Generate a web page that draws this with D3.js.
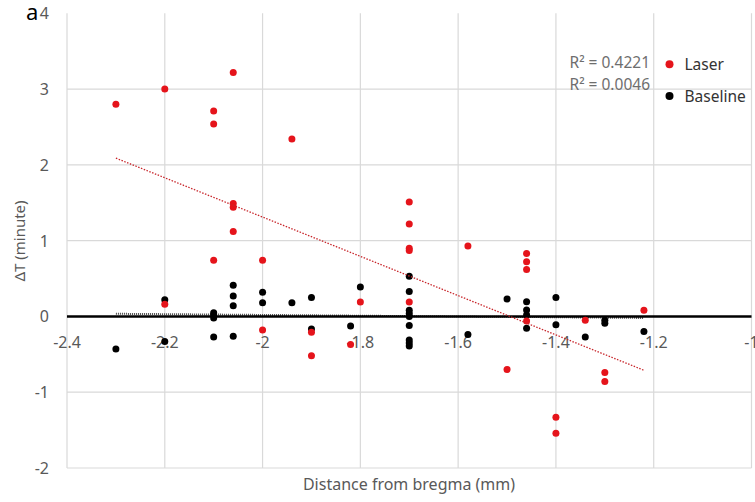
<!DOCTYPE html>
<html>
<head>
<meta charset="utf-8">
<script src="https://cdn.jsdelivr.net/npm/d3@7"></script>
<style>
  body { margin: 0; background: #fff; }
  svg text { font-family: "Noto Sans", "Open Sans", sans-serif; }
</style>
</head>
<body>
<div id="chart"></div>
<script>
// values
var laserX = [-2.3, -2.2, -2.2, -2.1, -2.1, -2.1, -2.06, -2.06, -2.06, -2.06, -2.0, -2.0, -1.94, -1.9, -1.9,
              -1.82, -1.8, -1.7, -1.7, -1.7, -1.7, -1.7, -1.58, -1.5, -1.46, -1.46, -1.46, -1.46, -1.4, -1.4,
              -1.34, -1.3, -1.3, -1.22];
var laserY = [2.80, 3.00, 0.16, 2.71, 2.54, 0.74, 3.22, 1.49, 1.44, 1.12, 0.74, -0.18, 2.34, -0.21, -0.52,
              -0.37, 0.19, 1.51, 1.22, 0.90, 0.87, 0.19, 0.93, -0.70, 0.83, 0.72, 0.62, -0.06, -1.33, -1.54,
              -0.05, -0.74, -0.86, 0.08];
var baseX = [-2.3, -2.2, -2.2, -2.1, -2.1, -2.1, -2.1, -2.06, -2.06, -2.06, -2.06, -2.0, -2.0, -1.94, -1.9, -1.9,
             -1.82, -1.8, -1.7, -1.7, -1.7, -1.7, -1.7, -1.7, -1.7, -1.7, -1.7, -1.58, -1.5, -1.46, -1.46, -1.46,
             -1.46, -1.4, -1.4, -1.34, -1.3, -1.3, -1.22];
var baseY = [-0.43, 0.22, -0.33, 0.05, 0.02, -0.02, -0.27, 0.41, 0.27, 0.14, -0.26, 0.32, 0.18, 0.18, 0.25, -0.165,
             -0.125, 0.39, 0.53, 0.33, 0.08, 0.04, 0.0, -0.12, -0.31, -0.35, -0.39, -0.24, 0.23, 0.195, 0.086, 0.02,
             -0.155, 0.25, -0.11, -0.27, -0.05, -0.09, -0.2];
var seriesNames = ["Laser", "Baseline"];
var r2Labels = ["R\u00b2 = 0.4221", "R\u00b2 = 0.0046"];
var xTicks = [-2.4, -2.2, -2, -1.8, -1.6, -1.4, -1.2, -1];
var yTicks = [4, 3, 2, 1, 0, -1, -2];

var width = 755,
    height = 502;
var red = "#e5141b",
    grid = "#d9d9d9",
    labelGrey = "#595959";

var svg = d3.select("#chart")
    .append("svg")
    .attr("width", width)
    .attr("height", height);

var x = d3.scaleLinear().domain([-2.4, -1]).range([67, 751.5]);
var y = d3.scaleLinear().domain([-2, 4]).range([468, 13.3]);

// gridlines
svg.append("g")
    .selectAll("line")
    .data(xTicks)
    .enter()
    .append("line")
    .attr("x1", d => x(d)).attr("x2", d => x(d))
    .attr("y1", y(4)).attr("y2", y(-2))
    .attr("stroke", grid)
    .attr("stroke-width", 1.2);

svg.append("g")
    .selectAll("line")
    .data(yTicks.filter(d => d !== 4 && d !== 0))
    .enter()
    .append("line")
    .attr("x1", x(-2.4)).attr("x2", x(-1))
    .attr("y1", d => y(d)).attr("y2", d => y(d))
    .attr("stroke", grid)
    .attr("stroke-width", 1.2);

// tick labels
svg.append("g")
    .selectAll("text")
    .data(yTicks)
    .enter()
    .append("text")
    .attr("x", 49)
    .attr("y", d => y(d) + 6)
    .attr("text-anchor", "end")
    .attr("fill", labelGrey)
    .style("font-size", "16px")
    .text(d => d);

svg.append("g")
    .selectAll("text")
    .data(xTicks)
    .enter()
    .append("text")
    .attr("x", d => x(d))
    .attr("y", y(0) + 32)
    .attr("text-anchor", "middle")
    .attr("fill", labelGrey)
    .style("font-size", "16px")
    .text(d => d);

// linear fit for a series, drawn between its smallest and largest x
function fit(xs, ys) {
    var mx = d3.mean(xs), my = d3.mean(ys);
    var sxy = d3.sum(xs, (v, i) => (v - mx) * (ys[i] - my));
    var sxx = d3.sum(xs, v => (v - mx) * (v - mx));
    var b = sxy / sxx, a = my - b * mx;
    var ext = d3.extent(xs);
    return ext.map(v => [v, a + b * v]);
}

var line = d3.line().x(d => x(d[0])).y(d => y(d[1]));

svg.append("path")
    .attr("d", line(fit(baseX, baseY)))
    .attr("stroke", "#444")
    .attr("stroke-width", 2)
    .attr("stroke-dasharray", "1,1")
    .attr("fill", "none");

// zero line
svg.append("line")
    .attr("x1", x(-2.4)).attr("x2", x(-1))
    .attr("y1", y(0)).attr("y2", y(0))
    .attr("stroke", "#000")
    .attr("stroke-width", 2.5);

// points
svg.append("g")
    .selectAll("circle")
    .data(baseX.map((v, i) => [v, baseY[i]]))
    .enter()
    .append("circle")
    .attr("cx", d => x(d[0]))
    .attr("cy", d => y(d[1]))
    .attr("r", 3.5)
    .attr("fill", "#000");

svg.append("g")
    .selectAll("circle")
    .data(laserX.map((v, i) => [v, laserY[i]]))
    .enter()
    .append("circle")
    .attr("cx", d => x(d[0]))
    .attr("cy", d => y(d[1]))
    .attr("r", 3.5)
    .attr("fill", red);

svg.append("path")
    .attr("d", line(fit(laserX, laserY)))
    .attr("stroke", "#c8262b")
    .attr("stroke-width", 1.3)
    .attr("stroke-dasharray", "1.5,1.5")
    .attr("fill", "none");

// R squared labels
svg.append("g")
    .selectAll("text")
    .data(r2Labels)
    .enter()
    .append("text")
    .attr("x", 650)
    .attr("y", (d, i) => 68 + i * 21.5)
    .attr("text-anchor", "end")
    .attr("fill", "#6e6e6e")
    .style("font-size", "15.5px")
    .text(d => d);

// legend
var legend = svg.append("g")
    .selectAll("g")
    .data(seriesNames)
    .enter()
    .append("g")
    .attr("transform", (d, i) => "translate(669.5," + (64.3 + i * 31.7) + ")");

legend.append("circle")
    .attr("r", 4)
    .attr("fill", (d, i) => i === 0 ? red : "#000");

legend.append("text")
    .attr("x", 15)
    .attr("y", 6)
    .attr("fill", "#333")
    .style("font-size", "15.5px")
    .text(d => d);

// axis titles
svg.append("text")
    .attr("x", 409)
    .attr("y", 490)
    .attr("text-anchor", "middle")
    .attr("fill", labelGrey)
    .style("font-size", "16px")
    .text("Distance from bregma (mm)");

svg.append("text")
    .attr("transform", "translate(25,241) rotate(-90)")
    .attr("text-anchor", "middle")
    .attr("fill", labelGrey)
    .style("font-size", "15px")
    .text("\u0394T (minute)");

// panel letter
svg.append("text")
    .attr("x", 26)
    .attr("y", 19.5)
    .attr("fill", "#000")
    .style("font-size", "22px")
    .text("a");
</script>
</body>
</html>
